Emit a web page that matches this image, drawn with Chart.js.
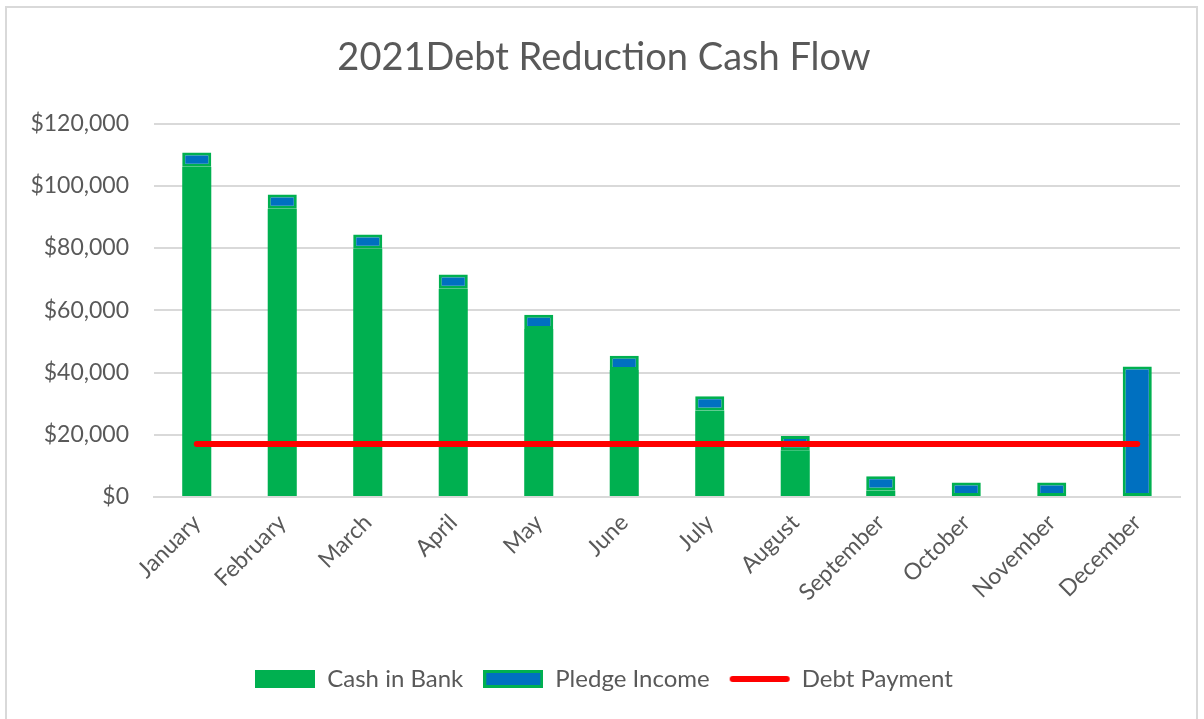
<!DOCTYPE html>
<html>
<head>
<meta charset="utf-8">
<script src="https://cdn.jsdelivr.net/npm/chart.js@4"></script>
<style>
html,body{margin:0;padding:0;background:#fff;}
#frame{position:absolute;left:5px;top:6px;width:1193px;height:716px;border:2px solid #d9d9d9;box-sizing:border-box;}
#wrap{position:absolute;left:0;top:0;width:1204px;height:719px;}
</style>
</head>
<body>
<div id="frame"></div>
<div id="wrap"><canvas id="c" width="1204" height="719"></canvas></div>
<script>
const categories = ['January','February','March','April','May','June','July','August','September','October','November','December'];
const cashInBank = [106100, 92600, 79800, 66900, 54000, 40800, 27800, 15000, 2100, 0, 0, 0];
const pledgeIncome = [4600, 4600, 4600, 4600, 4600, 4600, 4600, 4600, 4600, 4700, 4700, 41900];
const debtPayment = [17000, 17000, 17000, 17000, 17000, 17000, 17000, 17000, 17000, 17000, 17000, 17000];
const yTicks = [0, 20000, 40000, 60000, 80000, 100000, 120000];

const GREEN = '#00B050', BLUE = '#0070C0', RED = '#FF0000', TEXT = '#595959', GRID = '#d9d9d9';
const FONT = 'Lato';

function mk(w, h, draw){ const c = document.createElement('canvas'); c.width = w; c.height = h; draw(c.getContext('2d')); return c; }
const icoCash = mk(60, 18, g => { g.fillStyle = GREEN; g.fillRect(0,0,60,18); });
const icoPledge = mk(60, 18, g => { g.fillStyle = GREEN; g.fillRect(0,0,60,18); g.fillStyle = BLUE; g.fillRect(3,3,54,12); });
const icoDebt = mk(62, 8, g => { g.strokeStyle = RED; g.lineWidth = 6; g.lineCap = 'round'; g.beginPath(); g.moveTo(4,4); g.lineTo(58,4); g.stroke(); });
const icons = [icoCash, icoPledge, icoDebt];

new Chart(document.getElementById('c'), {
  data: {
    labels: categories,
    datasets: [
      { type: 'line', label: 'Debt Payment', data: debtPayment, borderColor: RED, backgroundColor: RED,
        borderWidth: 6, borderCapStyle: 'round', pointRadius: 0, order: 0, stack: 'debt' },
      { type: 'bar', label: 'Cash in Bank', data: cashInBank, backgroundColor: GREEN, borderColor: GREEN,
        borderWidth: 0, order: 1, stack: 'cash', barPercentage: 0.34, categoryPercentage: 1 },
      { type: 'bar', label: 'Pledge Income', data: pledgeIncome, backgroundColor: BLUE, borderColor: GREEN,
        borderWidth: 3, borderSkipped: false, order: 1, stack: 'cash', barPercentage: 0.34, categoryPercentage: 1 }
    ]
  },
  options: {
    responsive: false,
    animation: false,
    layout: { padding: { left: 28, right: 24, top: 0, bottom: 18 } },
    plugins: {
      title: { display: true, text: '2021Debt Reduction Cash Flow', color: TEXT,
        font: { family: FONT, size: 38, weight: 'normal' }, padding: { top: 35, bottom: 43 } },
      legend: {
        position: 'bottom',
        labels: {
          usePointStyle: true, pointStyleWidth: 60, boxHeight: 24,
          color: TEXT, font: { family: FONT, size: 24 }, padding: 20,
          generateLabels(chart) {
            const order = [1, 2, 0];
            return order.map((di, i) => ({
              text: chart.data.datasets[di].label,
              pointStyle: icons[i],
              fillStyle: 'transparent', strokeStyle: 'transparent', lineWidth: 0,
              fontColor: TEXT, hidden: false, datasetIndex: di
            }));
          }
        }
      },
      tooltip: { enabled: false }
    },
    scales: {
      x: {
        stacked: true,
        grid: { display: false },
        border: { display: true, color: GRID, width: 2 },
        ticks: { color: TEXT, font: { family: FONT, size: 23 }, maxRotation: 45, minRotation: 45, padding: 4 },
        afterFit(s) { s.height = 150; }
      },
      y: {
        stacked: true,
        min: 0, max: 120000,
        afterBuildTicks(s) { s.ticks = yTicks.map(v => ({ value: v })); },
        grid: { color: GRID, lineWidth: 2, drawTicks: false },
        border: { display: false },
        ticks: { color: TEXT, font: { family: FONT, size: 23 }, padding: 25,
          callback: v => '$' + Number(v).toLocaleString('en-US') },
        afterFit(s) { s.width = 126; }
      }
    }
  }
});
</script>
</body>
</html>
